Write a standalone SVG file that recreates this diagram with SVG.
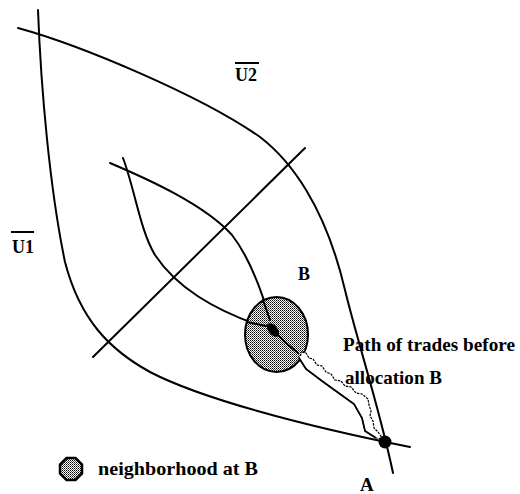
<svg xmlns="http://www.w3.org/2000/svg" width="520" height="494" viewBox="0 0 520 494">
<style>
.c{fill:none;stroke:#000;stroke-width:2;stroke-linecap:round;stroke-linejoin:round}
.t{font-family:"Liberation Serif","Times New Roman",serif;font-weight:bold;fill:#000}
.bar{stroke:#000;stroke-width:2}
</style>
<defs>
<pattern id="dots" width="2" height="2" patternUnits="userSpaceOnUse">
<rect width="2" height="2" fill="#fff"/>
<rect width="1" height="1" fill="#000"/>
<rect x="1" y="1" width="1" height="1" fill="#555"/>
</pattern>
</defs>
<rect width="520" height="494" fill="#fff"/>
<g id="connectors">
<path id="curve-U1" class="c" d="M38,10 C41,90 50,190 65,262 C80,320 110,350 150,372 C200,398 300,425 410,447"/>
<path id="curve-U2" class="c" d="M18,28 C80,45 200,95 260,137 C290,160 325,205 345,290 C357,340 380,410 393,473"/>
<path id="contract-line" class="c" d="M93,357 L305,148"/>
<path id="curve-1" class="c" d="M110,163 C150,180 205,205 232,235 C250,258 262,290 273,330"/>
<path id="curve-2" class="c" d="M123,158 C135,190 140,230 155,255 C175,285 210,310 273,330"/>
</g>
<g id="neighborhood-B">
<ellipse cx="276.5" cy="334.5" rx="31.5" ry="37.5" fill="url(#dots)" stroke="#000" stroke-width="2"/>
<path class="c" d="M263,300 L270,320 M247,322 L266,326"/>
<path class="c" d="M273,330 L286,343 L298,353"/>
<ellipse cx="273" cy="330" rx="4.5" ry="8" transform="rotate(-40 273 330)" fill="#000"/>
</g>
<g id="path-of-trades">
<path d="M302,352 L306,353 L309,358 L313,359 L317,365 L322,366 L326,372 L331,374 L335,380 L341,381 L345,386 L351,387 L356,393 L362,394 L368,399 L369,405 L371,411 L370,416 L373,421 L374,428 L378,432 L383,439 L376,438 L365,431 L362,418 L354,404 L340,394 L322,381 L306,369 L299,358 Z" fill="#fff" stroke="#000" stroke-width="1.2" stroke-dasharray="2.5 1"/>
<path d="M299,358 L306,369 L322,381 L340,394 L354,404 L362,418 L365,431 L376,438" fill="none" stroke="#000" stroke-width="1.8"/>
</g>
<g id="point-A">
<circle cx="385" cy="442" r="6.5" fill="#000"/>
</g>
<g id="labels">
<text class="t" x="12" y="253" font-size="18">U1</text>
<line class="bar" x1="11" y1="232" x2="34" y2="232"/>
<text class="t" x="235" y="81" font-size="18">U2</text>
<line class="bar" x1="235" y1="63" x2="259" y2="63"/>
<text class="t" x="298" y="280" font-size="18">B</text>
<text class="t" x="343" y="351" font-size="19" textLength="172" lengthAdjust="spacingAndGlyphs">Path of trades before</text>
<text class="t" x="345" y="384" font-size="19" textLength="97" lengthAdjust="spacingAndGlyphs">allocation B</text>
<text class="t" x="360" y="491" font-size="19">A</text>
</g>
<g id="legend">
<polygon points="66.5,458 75.5,458 82,464.5 82,473.5 75.5,480 66.5,480 60,473.5 60,464.5" fill="url(#dots)" stroke="#000" stroke-width="2.5"/>
<text class="t" x="98" y="475" font-size="19" textLength="160" lengthAdjust="spacingAndGlyphs">neighborhood at B</text>
</g>
</svg>
